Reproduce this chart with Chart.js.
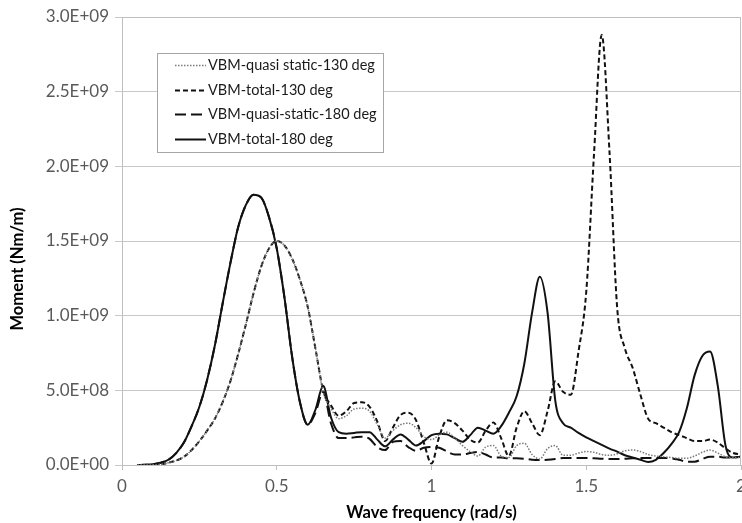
<!DOCTYPE html>
<html>
<head>
<meta charset="utf-8">
<script src="https://cdn.jsdelivr.net/npm/chart.js@4/dist/chart.umd.min.js"></script>
<style>
  html, body { margin: 0; padding: 0; background: #fff; }
  #wrap { width: 742px; height: 523px; position: relative; }
</style>
</head>
<body>
<div id="wrap"><canvas id="c" width="742" height="523"></canvas></div>
<script>
// Wave frequency (rad/s)
const freq = [0.05, 0.075, 0.1, 0.125, 0.15, 0.175, 0.2, 0.225, 0.25, 0.275,
  0.3, 0.325, 0.35, 0.375, 0.4, 0.425, 0.45, 0.475, 0.5, 0.525,
  0.55, 0.575, 0.6, 0.625, 0.65, 0.675, 0.7, 0.725, 0.75, 0.775,
  0.8, 0.825, 0.85, 0.875, 0.9, 0.925, 0.95, 0.975, 1.0, 1.025,
  1.05, 1.075, 1.1, 1.125, 1.15, 1.175, 1.2, 1.225, 1.25, 1.275,
  1.3, 1.325, 1.35, 1.375, 1.4, 1.425, 1.45, 1.475, 1.5, 1.525,
  1.55, 1.575, 1.6, 1.625, 1.65, 1.675, 1.7, 1.725, 1.75, 1.775,
  1.8, 1.825, 1.85, 1.875, 1.9, 1.925, 1.95, 1.975, 2.0];

// Moment values in units of 1E+08 Nm/m
const quasiStatic130 = [0, 0, 0.01, 0.05, 0.15, 0.3, 0.55, 1.0, 1.6, 2.3,
  3.1, 4.2, 5.6, 7.4, 9.4, 11.5, 13.3, 14.5, 15.0, 14.7,
  13.8, 12.4, 10.6, 7.8, 4.9, 3.8, 3.1, 3.3, 3.75, 3.8,
  3.6, 2.7, 1.8, 2.3, 2.7, 2.8, 2.5, 1.9, 1.7, 2.0,
  2.2, 1.8, 1.3, 0.9, 0.6, 1.2, 1.3, 0.6, 0.5, 1.3,
  1.45, 0.7, 0.4, 1.1, 1.3, 0.65, 0.65, 0.8, 0.9, 0.85,
  0.7, 0.65, 0.75, 0.95, 1.0, 0.9, 0.7, 0.6, 0.55, 0.5,
  0.45, 0.45, 0.6, 0.85, 1.0, 0.8, 0.55, 0.5, 0.5];

const total130 = [0, 0, 0.01, 0.05, 0.15, 0.3, 0.55, 1.0, 1.6, 2.3,
  3.1, 4.2, 5.6, 7.4, 9.4, 11.5, 13.3, 14.5, 15.0, 14.7,
  13.8, 12.4, 10.6, 7.8, 5.0, 4.0, 3.3, 3.6, 4.15, 4.2,
  3.9, 2.9, 1.6, 2.5, 3.35, 3.5, 3.0, 1.5, 0.1, 1.9,
  3.0, 2.8, 2.3, 1.7, 1.5, 2.3, 2.85, 1.8, 0.6, 2.5,
  3.6, 2.8, 2.0, 3.6, 5.6, 4.9, 4.7, 7.6, 11.6, 20.8,
  28.8, 21.0, 10.5, 7.8, 6.5, 4.7, 3.1, 2.8, 2.5, 2.2,
  2.0, 1.8, 1.6, 1.6, 1.7, 1.5, 1.1, 0.8, 0.7];

const quasiStatic180 = [0, 0.01, 0.05, 0.15, 0.35, 0.8, 1.5, 2.6, 3.9, 5.7,
  8.0, 10.8, 13.5, 15.9, 17.4, 18.1, 17.9, 16.6, 14.5, 11.2,
  7.2, 4.2, 2.7, 3.5, 4.9, 2.8, 1.8, 1.8, 1.85, 1.9,
  1.75, 1.2, 1.0, 1.55, 1.6, 1.2, 0.95, 1.15, 1.2, 1.15,
  0.9, 0.7, 0.7, 0.8, 0.87, 0.7, 0.5, 0.5, 0.45, 0.45,
  0.42, 0.35, 0.33, 0.35, 0.4, 0.47, 0.47, 0.47, 0.47, 0.45,
  0.42, 0.4, 0.4, 0.42, 0.45, 0.47, 0.47, 0.47, 0.47, 0.45,
  0.35, 0.22, 0.22, 0.4, 0.55, 0.55, 0.5, 0.5, 0.55];

const total180 = [0, 0.01, 0.05, 0.15, 0.35, 0.8, 1.5, 2.6, 3.9, 5.7,
  8.0, 10.8, 13.5, 15.9, 17.4, 18.1, 17.9, 16.6, 14.5, 11.2,
  7.2, 4.2, 2.7, 3.7, 5.3, 3.2, 2.2, 2.1, 2.15, 2.2,
  2.2, 1.7, 1.25, 1.7, 2.05, 1.7, 1.3, 1.6, 2.0, 2.1,
  2.05, 1.8, 1.55, 2.0, 2.5, 2.3, 2.1, 2.6, 3.5, 4.6,
  6.8, 10.2, 12.6, 10.2, 4.3, 2.8, 2.5, 2.15, 1.85, 1.6,
  1.35, 1.1, 0.9, 0.65, 0.5, 0.35, 0.2, 0.35, 0.8, 1.4,
  2.2, 3.8, 6.0, 7.3, 7.6, 5.3, 1.3, 0.5, 0.55];

const UNIT = 1e8;
const seriesLabels = ['VBM-quasi static-130 deg', 'VBM-total-130 deg', 'VBM-quasi-static-180 deg', 'VBM-total-180 deg'];
const xTicks = [0, 0.5, 1, 1.5, 2];
const yTicks = [0, 5e8, 1e9, 1.5e9, 2e9, 2.5e9, 3e9];

const FONT = 'Lato, "Open Sans", sans-serif';

function toPoints(arr) { return freq.map((f, i) => ({ x: f, y: arr[i] * UNIT })); }
function fmtExp(v) {
  if (v === 0) return '0.0E+00';
  const e = Math.floor(Math.log10(v) + 1e-9);
  const m = v / Math.pow(10, e);
  return m.toFixed(1) + 'E+' + String(e).padStart(2, '0');
}

const styles = [
  { color: '#7a7a7a', width: 1.5, dash: [1.5, 1.5] },
  { color: '#111', width: 2, dash: [5, 3] },
  { color: '#111', width: 2, dash: [11, 5] },
  { color: '#111', width: 2, dash: [] }
];
const seriesData = [quasiStatic130, total130, quasiStatic180, total180];

const datasets = seriesData.map((arr, i) => ({
  label: seriesLabels[i],
  data: toPoints(arr),
  borderColor: styles[i].color,
  borderWidth: styles[i].width,
  borderDash: styles[i].dash,
  pointRadius: 0,
  fill: false,
  cubicInterpolationMode: 'monotone'
}));

const customPlugin = {
  id: 'customDecor',
  afterDraw(chart) {
    const ctx = chart.ctx;
    const a = chart.chartArea;
    ctx.save();
    // plot frame top and right
    ctx.strokeStyle = '#bfbfbf';
    ctx.lineWidth = 1;
    ctx.setLineDash([]);
    ctx.beginPath();
    ctx.moveTo(a.left, a.top + 0.5);
    ctx.lineTo(a.right - 0.5, a.top + 0.5);
    ctx.lineTo(a.right - 0.5, a.bottom);
    ctx.stroke();

    // legend box
    const bx = 157, by = 53, bw = 226, bh = 99;
    ctx.fillStyle = '#fff';
    ctx.fillRect(bx, by, bw, bh);
    ctx.strokeStyle = '#a6a6a6';
    ctx.strokeRect(bx + 0.5, by + 0.5, bw, bh);
    const rows = [65, 90, 114, 139];
    ctx.font = '14.5px ' + FONT;
    ctx.textBaseline = 'middle';
    ctx.textAlign = 'left';
    chart.data.datasets.forEach((ds, i) => {
      const y = rows[i] + 0.5;
      ctx.strokeStyle = ds.borderColor;
      ctx.lineWidth = ds.borderWidth;
      ctx.setLineDash(ds.borderDash);
      ctx.beginPath();
      ctx.moveTo(175, y);
      ctx.lineTo(206, y);
      ctx.stroke();
      ctx.setLineDash([]);
      ctx.fillStyle = '#1a1a1a';
      ctx.fillText(ds.label, 208, rows[i]);
    });

    // y axis title
    ctx.translate(18, 269);
    ctx.rotate(-Math.PI / 2);
    ctx.textAlign = 'center';
    ctx.textBaseline = 'middle';
    ctx.fillStyle = '#000';
    ctx.font = 'bold 16.5px ' + FONT;
    ctx.fillText('Moment (Nm/m)', 0, 0);
    ctx.restore();
  }
};

new Chart(document.getElementById('c'), {
  type: 'line',
  data: { datasets },
  options: {
    responsive: false,
    animation: false,
    layout: { padding: { top: 17, right: 1, left: 0, bottom: 0 } },
    plugins: { legend: { display: false }, tooltip: { enabled: false } },
    elements: { line: { tension: 0.4 } },
    scales: {
      x: {
        type: 'linear', min: 0, max: 2,
        afterBuildTicks(s) { s.ticks = xTicks.map(v => ({ value: v })); },
        ticks: { color: '#595959', font: { family: FONT, size: 17 }, padding: 6, maxRotation: 0, autoSkip: false,
          callback: v => String(v) },
        grid: { drawOnChartArea: false, drawTicks: true, tickLength: 5, color: '#bfbfbf' },
        border: { color: '#bfbfbf' },
        title: { display: true, text: 'Wave frequency (rad/s)', color: '#000',
          font: { family: FONT, size: 16.5, weight: 'bold' }, padding: { top: 0, bottom: 0 } },
        afterFit(s) { s.height = 58; s.paddingRight = 0; s.paddingLeft = 0; }
      },
      y: {
        min: 0, max: 3e9,
        afterBuildTicks(s) { s.ticks = yTicks.map(v => ({ value: v })); },
        ticks: { color: '#595959', font: { family: FONT, size: 17 }, padding: 6, callback: v => fmtExp(v) },
        grid: { color: '#c8c8c8', tickLength: 7 },
        border: { color: '#bfbfbf' },
        afterFit(s) { s.width = 122; s.paddingTop = 0; s.paddingBottom = 0; }
      }
    }
  },
  plugins: [customPlugin]
});
</script>
</body>
</html>
